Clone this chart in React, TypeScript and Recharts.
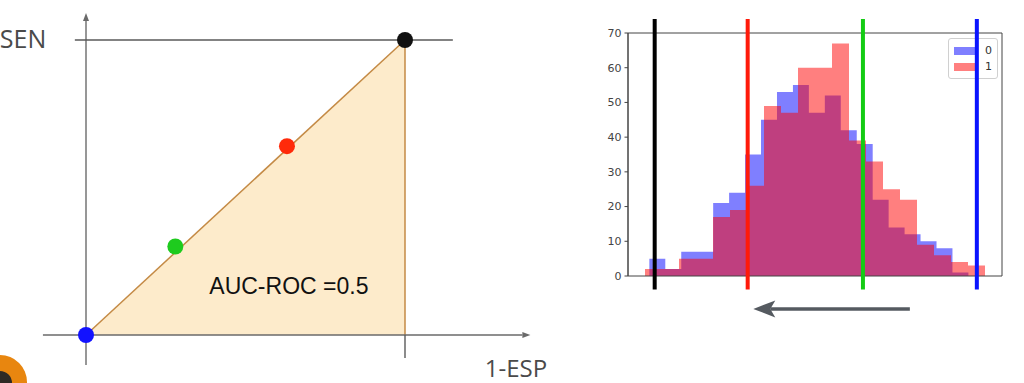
import React from 'react';
import {
  ComposedChart,
  Area,
  Scatter,
  Cell,
  XAxis,
  YAxis,
  ReferenceLine,
  ReferenceDot,
  ReferenceArea,
  Legend,
} from 'recharts';

// ---------------- ROC panel data ----------------
const diagonalFpr = [0, 1];
const diagonalTpr = [0, 1];
const pointFpr = [0, 0.28, 0.63, 1];
const pointTpr = [0, 0.3, 0.64, 1];
const pointColors = ['#1212ff', '#1ecb1e', '#ff2a0a', '#111111'];
const aucText = 'AUC-ROC =0.5';
const senText = 'SEN';
const espText = '1-ESP';

// ---------------- Histogram panel data ----------------
const blueEdges = [
  0.0128, 0.0597, 0.1066, 0.1536, 0.2005, 0.2474, 0.2943, 0.3412, 0.3882, 0.4351, 0.482,
  0.5289, 0.5758, 0.6228, 0.6697, 0.7166, 0.7635, 0.8104, 0.8574, 0.9043, 0.9512,
];
const blueCounts = [5, 2, 7, 7, 21, 24, 35, 45, 53, 55, 47, 52, 42, 38, 22, 14, 12, 10, 8, 1];
const redEdges = [
  0, 0.05, 0.1, 0.15, 0.2, 0.25, 0.3, 0.35, 0.4, 0.45, 0.5, 0.55, 0.6, 0.65, 0.7, 0.75, 0.8,
  0.85, 0.9, 0.95, 1,
];
const redCounts = [2, 2, 5, 5, 17, 19, 26, 49, 47, 60, 60, 67, 39, 33, 25, 22, 9, 6, 4, 3];
const seriesNames = ['0', '1'];
const thresholds = [0.0285, 0.302, 0.641, 0.976];
const thresholdColors = ['#000000', '#ff1a0a', '#14cc14', '#0a14ff'];
const yTicks = [0, 10, 20, 30, 40, 50, 60, 70];
const arrowFrom = 0.779;
const arrowTo = 0.3185;

// ---------------- derived tables ----------------
const rocRows = diagonalFpr.map((f, i) => ({ fpr: f, tpr: diagonalTpr[i] }));
const rocPoints = pointFpr.map((f, i) => ({ fpr: f, tpr: pointTpr[i] }));

function countAt(edges: number[], counts: number[], x: number): number | null {
  if (x < edges[0] || x > edges[edges.length - 1]) return null;
  for (let i = 0; i < counts.length; i++) {
    if (x < edges[i + 1]) return counts[i];
  }
  return counts[counts.length - 1];
}
const histXs = Array.from(new Set([...blueEdges, ...redEdges])).sort((a, b) => a - b);
const histRows = histXs.map((x) => ({
  x,
  blue: countAt(blueEdges, blueCounts, x),
  red: countAt(redEdges, redCounts, x),
}));

// ---------------- shapes ----------------
const makeArrow = (color: string, width: number, head: number, half: number, notch: number) =>
  (p: any) => {
    const { x1, y1, x2, y2 } = p;
    if ([x1, y1, x2, y2].some((v) => v == null || isNaN(v))) return null;
    const dx = x2 - x1;
    const dy = y2 - y1;
    const len = Math.hypot(dx, dy) || 1;
    const ux = dx / len;
    const uy = dy / len;
    const bx = x2 - ux * head;
    const by = y2 - uy * head;
    const px = -uy * half;
    const py = ux * half;
    const nx = bx + ux * notch;
    const ny = by + uy * notch;
    return (
      <g>
        <line x1={x1} y1={y1} x2={nx} y2={ny} stroke={color} strokeWidth={width} />
        <polygon
          points={`${x2},${y2} ${bx + px},${by + py} ${nx},${ny} ${bx - px},${by - py}`}
          fill={color}
        />
      </g>
    );
  };

const DotShape = (props: any) => {
  const { cx, cy, fill } = props;
  if (cx == null || cy == null) return null;
  return <circle cx={cx} cy={cy} r={8} fill={fill} />;
};

const makeText = (text: string, size: number, color: string, family: string) => (p: any) => (
  <text
    x={p.cx}
    y={p.cy}
    dy="0.35em"
    textAnchor="middle"
    fontSize={size}
    fill={color}
    fontFamily={family}
  >
    {text}
  </text>
);

const LegendBox = (props: any) => {
  const payload = props.payload || [];
  return (
    <div
      style={{
        border: '1px solid #d0d0d0',
        borderRadius: 3,
        background: 'rgba(255,255,255,0.85)',
        padding: '4px 5px 3px 5px',
        fontFamily: 'DejaVu Sans, sans-serif',
        fontSize: 11,
        color: '#333',
        lineHeight: '16px',
      }}
    >
      {payload.map((e: any, i: number) => (
        <div key={i} style={{ display: 'flex', alignItems: 'center', height: 16 }}>
          <span
            style={{
              display: 'inline-block',
              width: 22,
              height: 8,
              background: e.color,
              opacity: 0.5,
              marginRight: 9,
            }}
          />
          <span>{e.value}</span>
        </div>
      ))}
    </div>
  );
};

export default function App() {
  return (
    <div
      style={{
        position: 'fixed',
        left: 0,
        top: 0,
        width: 1024,
        height: 383,
        background: '#ffffff',
        overflow: 'hidden',
      }}
    >
      {/* ROC sketch */}
      <div style={{ position: 'absolute', left: 0, top: 0 }}>
        <ComposedChart width={560} height={383} data={rocRows} margin={{ top: 0, right: 0, bottom: 0, left: 0 }}>
          <XAxis dataKey="fpr" type="number" domain={[-0.2696, 1.4859]} hide allowDataOverflow />
          <YAxis dataKey="tpr" type="number" domain={[-0.1627, 1.1356]} hide allowDataOverflow />
          <Area
            dataKey="tpr"
            type="linear"
            baseValue={0}
            fill="#fdebcb"
            fillOpacity={1}
            stroke="#c48a45"
            strokeWidth={1.5}
            dot={false}
            activeDot={false}
            isAnimationActive={false}
          />
          <ReferenceLine
            segment={[{ x: 1, y: 0 }, { x: 1, y: 1 }]}
            stroke="#c48a45"
            strokeWidth={1.5}
            ifOverflow="visible"
          />
          <ReferenceLine
            segment={[{ x: -0.135, y: 0 }, { x: 1.393, y: 0 }]}
            stroke="#6a6a6a"
            ifOverflow="visible"
            shape={makeArrow('#6a6a6a', 1.4, 8, 3, 0)}
          />
          <ReferenceLine
            segment={[{ x: 0, y: -0.102 }, { x: 0, y: 1.0915 }]}
            stroke="#6a6a6a"
            ifOverflow="visible"
            shape={makeArrow('#6a6a6a', 1.4, 8, 3, 0)}
          />
          <ReferenceLine
            segment={[{ x: -0.035, y: 1 }, { x: 1.15, y: 1 }]}
            stroke="#5a5a5a"
            strokeWidth={1.4}
            ifOverflow="visible"
          />
          <ReferenceLine
            segment={[{ x: 1, y: 0 }, { x: 1, y: -0.078 }]}
            stroke="#5a5a5a"
            strokeWidth={1.4}
            ifOverflow="visible"
          />
          <Scatter data={rocPoints} dataKey="tpr" shape={DotShape} isAnimationActive={false}>
            {rocPoints.map((_, i) => (
              <Cell key={i} fill={pointColors[i]} />
            ))}
          </Scatter>
          <ReferenceDot x={0.636} y={0.166} r={1} ifOverflow="visible" shape={makeText(aucText, 23, '#111', 'Liberation Sans, Arial, sans-serif')} />
          <ReferenceDot x={-0.1975} y={1.0034} r={1} ifOverflow="visible" shape={makeText(senText, 25, '#4a4a4a', 'Open Sans, sans-serif')} />
          <ReferenceDot x={1.348} y={-0.115} r={1} ifOverflow="visible" shape={makeText(espText, 24, '#4a4a4a', 'Open Sans, sans-serif')} />
        </ComposedChart>
      </div>

      {/* small orange logo fragment */}
      <div
        style={{
          position: 'absolute',
          left: -27,
          top: 355,
          width: 54,
          height: 54,
          borderRadius: '50%',
          background: '#e8860f',
        }}
      >
        <div
          style={{
            position: 'absolute',
            left: 15,
            top: 16,
            width: 24,
            height: 24,
            borderRadius: '50%',
            background: '#2e2a25',
          }}
        />
      </div>

      {/* Histogram */}
      <div style={{ position: 'absolute', left: 590, top: 0 }}>
        <ComposedChart width={434} height={383} data={histRows} margin={{ top: 33, right: 22, bottom: 107, left: 0 }}>
          <XAxis dataKey="x" type="number" domain={[-0.05, 1.05]} hide allowDataOverflow />
          <YAxis
            type="number"
            domain={[0, 70]}
            ticks={yTicks}
            width={38}
            tickSize={3.5}
            tickMargin={3}
            interval={0}
            axisLine={{ stroke: '#444' }}
            tickLine={{ stroke: '#444' }}
            tick={{ fill: '#444', fontSize: 11, fontFamily: 'DejaVu Sans, sans-serif' }}
            allowDataOverflow
          />
          <Area
            dataKey="blue"
            name={seriesNames[0]}
            type="stepAfter"
            fill="#0000ff"
            fillOpacity={0.5}
            stroke="none"
            baseValue={0}
            dot={false}
            activeDot={false}
            isAnimationActive={false}
          />
          <Area
            dataKey="red"
            name={seriesNames[1]}
            type="stepAfter"
            fill="#ff0000"
            fillOpacity={0.5}
            stroke="none"
            baseValue={0}
            dot={false}
            activeDot={false}
            isAnimationActive={false}
          />
          <ReferenceArea x1={-0.05} x2={1.05} y1={0} y2={70} fill="none" stroke="#444" strokeWidth={1} ifOverflow="visible" />
          {thresholds.map((t, i) => (
            <ReferenceLine
              key={i}
              segment={[{ x: t, y: -3.9 }, { x: t, y: 74 }]}
              stroke={thresholdColors[i]}
              strokeWidth={4}
              ifOverflow="visible"
            />
          ))}
          <ReferenceLine
            segment={[{ x: arrowFrom, y: -9.5 }, { x: arrowTo, y: -9.5 }]}
            stroke="#555a60"
            ifOverflow="visible"
            shape={makeArrow('#555a60', 3.7, 22, 8.5, 5)}
          />
          <Legend
            layout="vertical"
            align="center"
            verticalAlign="middle"
            content={LegendBox}
            wrapperStyle={{ left: 358, top: 38, width: 'auto', height: 'auto', zIndex: -1 }}
          />
        </ComposedChart>
      </div>
    </div>
  );
}
